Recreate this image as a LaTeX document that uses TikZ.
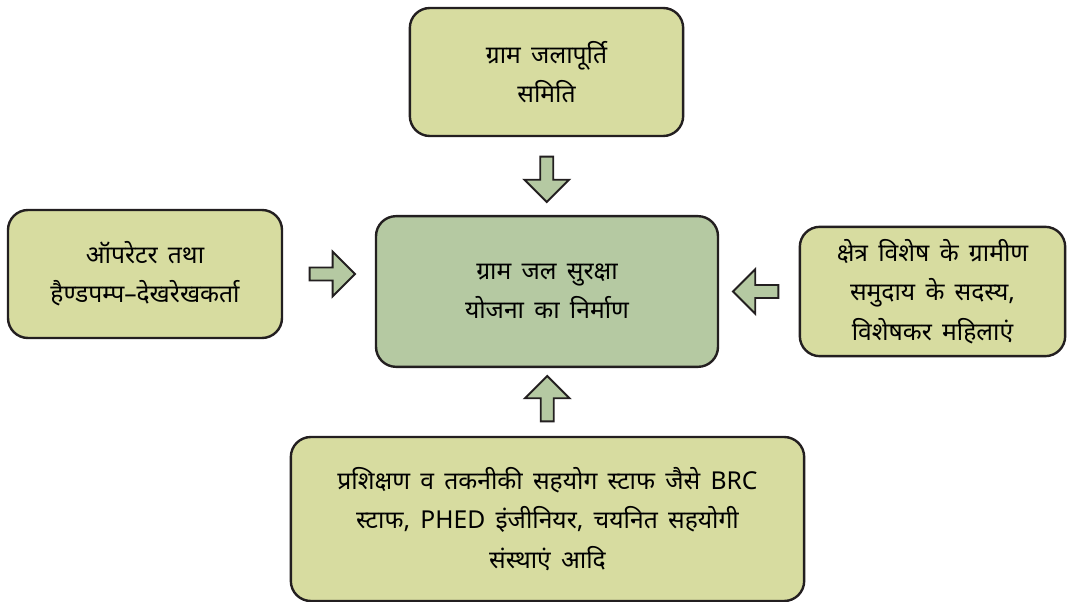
\documentclass[tikz,border=0pt]{standalone}
\usepackage{fontspec}
\setmainfont[Script=Devanagari,WordSpace=1.6]{Noto Sans}
\usetikzlibrary{calc}
\usetikzlibrary{shapes.arrows}
\definecolor{boxolive}{RGB}{215,220,160}
\definecolor{sagegreen}{RGB}{181,201,162}
\definecolor{edgegray}{RGB}{35,31,32}

\begin{document}
\begin{tikzpicture}[x=0.75pt,y=-0.75pt,
	box/.style={draw=edgegray,line width=1.8pt,rounded corners=15pt,fill=boxolive,align=center,font=\fontsize{18.5}{29.5}\selectfont},
	blockarrow/.style={single arrow,draw=edgegray,line width=1.4pt,fill=sagegreen,inner xsep=0pt,inner ysep=4.2pt,minimum height=34pt,minimum width=32pt,single arrow head extend=11.8pt}]
\useasboundingbox (0,0) rectangle (1067,602);
\node[box,minimum width=205pt,minimum height=96pt] (samiti) at (546.5,72) {ग्राम जलापूर्ति\\समिति};
\node[box,minimum width=205.5pt,minimum height=96pt] (operator) at (145,274) {ऑपरेटर तथा\\हैण्डपम्प–देखरेखकर्ता};
\node[box,fill=sagegreen,minimum width=256.5pt,minimum height=113pt] (yojana) at (547,291.5) {ग्राम जल सुरक्षा\\योजना का निर्माण};
\node[box,minimum width=199pt,minimum height=97pt] (samudaay) at (932.5,291.5) {क्षेत्र विशेष के ग्रामीण\\समुदाय के सदस्य,\\विशेषकर महिलाएं};
\node[box,minimum width=385pt,minimum height=123pt] (staff) at (547.5,519) {प्रशिक्षण व तकनीकी सहयोग स्टाफ जैसे BRC\\स्टाफ, PHED इंजीनियर, चयनित सहयोगी\\संस्थाएं आदि};
%block arrows into the plan
\node[blockarrow,rotate=-90] (a1) at ($(samiti.south)!.5!(yojana.north)$) {};
\node[blockarrow] (a2) at ($(operator.east)!.5!(operator.east -| yojana.west)$) {};
\node[blockarrow,rotate=180] (a3) at ($(yojana.east)!.5!(samudaay.west)$) {};
\node[blockarrow,rotate=90] (a4) at ($(staff.north)!.5!(yojana.south)$) {};
\end{tikzpicture}
\end{document}
